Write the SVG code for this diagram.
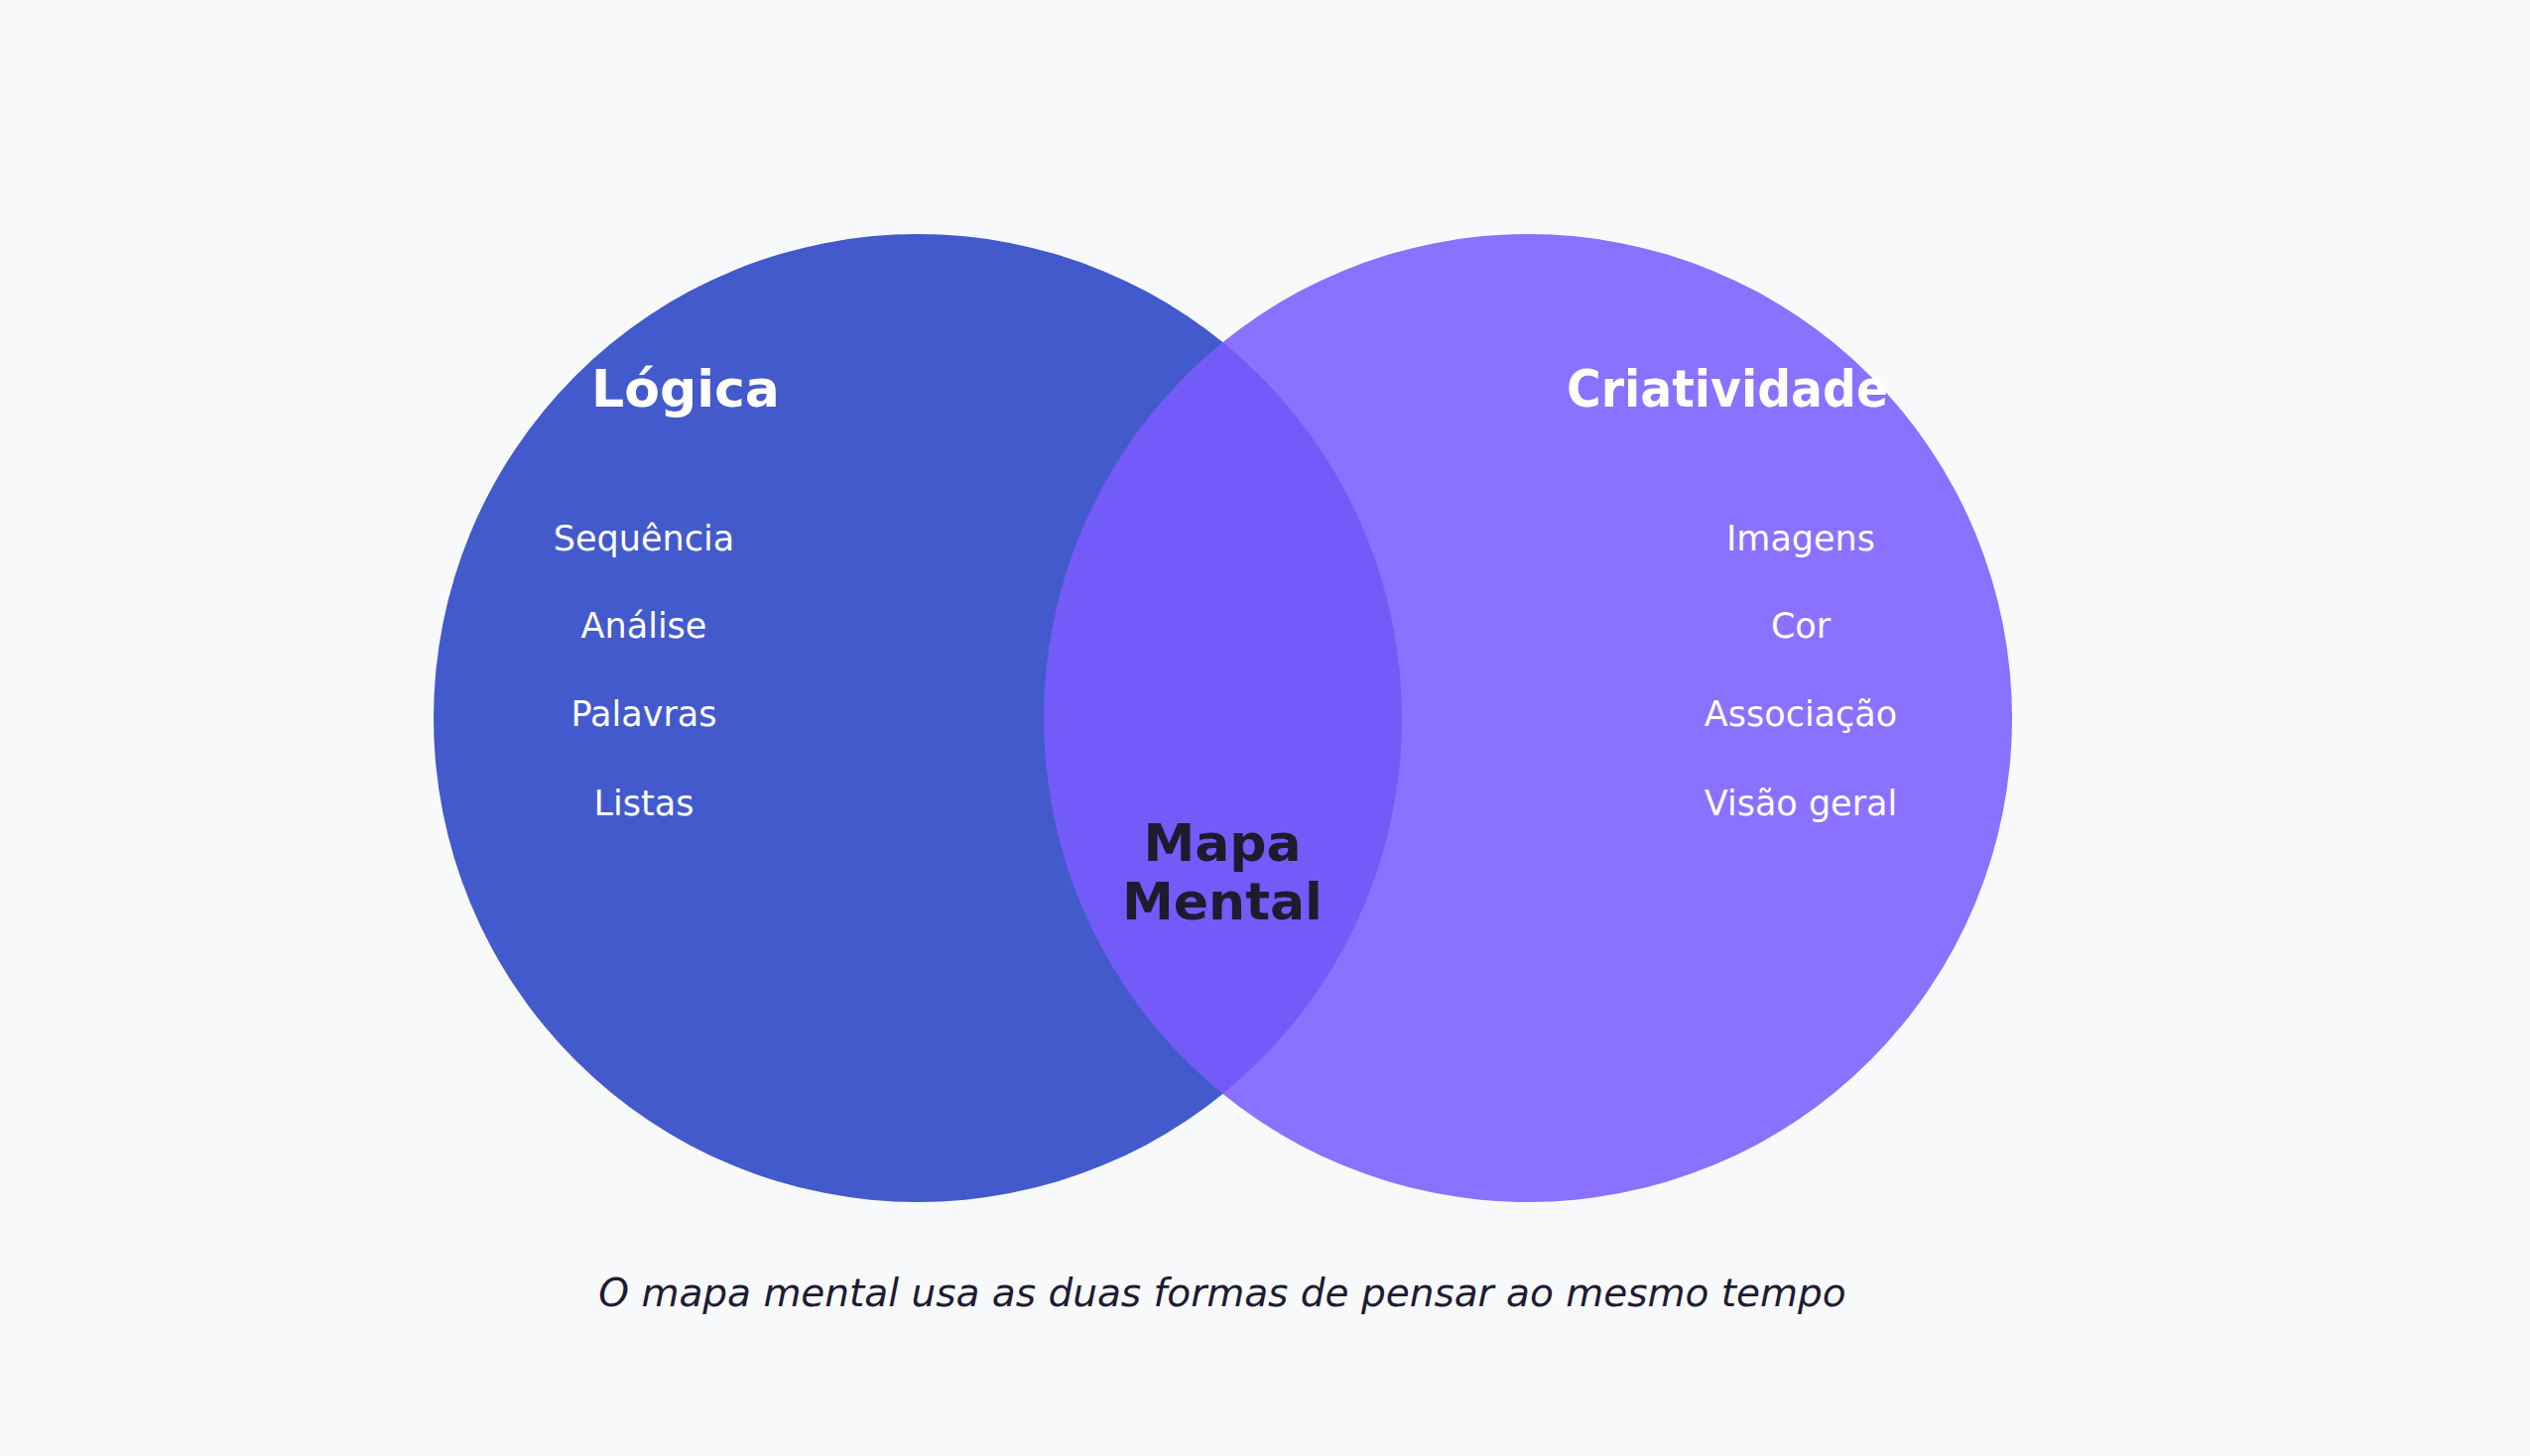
<svg xmlns="http://www.w3.org/2000/svg" width="2550" height="1468" viewBox="0 0 2550 1468">
<style>
.title{font-family:"DejaVu Sans",sans-serif;font-weight:bold;font-size:52px;fill:#ffffff;text-anchor:middle}
.item{font-family:"DejaVu Sans",sans-serif;font-size:35px;fill:#ffffff;text-anchor:middle}
.center{font-family:"DejaVu Sans",sans-serif;font-weight:bold;font-size:52px;fill:#1e1b2e;text-anchor:middle}
.caption{font-family:"DejaVu Sans",sans-serif;font-style:italic;font-size:39px;fill:#1e1b33;text-anchor:middle}
</style>
<rect width="2550" height="1468" fill="#f8f9fb"/>
<g id="logica">
<circle cx="925" cy="724" r="488" fill="#435acc"/>
</g>
<g id="criatividade">
<circle cx="1540" cy="724" r="488" fill="#7b5cff" fill-opacity="0.87"/>
</g>
<g id="logica-labels">
<text class="title" x="691" y="410">Lógica</text>
<text class="item" x="649" y="555">Sequência</text>
<text class="item" x="649" y="643">Análise</text>
<text class="item" x="649" y="732">Palavras</text>
<text class="item" x="649" y="822">Listas</text>
</g>
<g id="criatividade-labels">
<text class="title" x="1741" y="410" textLength="324" lengthAdjust="spacingAndGlyphs">Criatividade</text>
<text class="item" x="1815" y="555">Imagens</text>
<text class="item" x="1815" y="643">Cor</text>
<text class="item" x="1815" y="732">Associação</text>
<text class="item" x="1815" y="822">Visão geral</text>
</g>
<g id="mapa-mental">
<text class="center" x="1232" y="868">Mapa</text>
<text class="center" x="1232" y="927">Mental</text>
</g>
<g id="connectors"></g>
<text class="caption" x="1232" y="1317">O mapa mental usa as duas formas de pensar ao mesmo tempo</text>
</svg>
